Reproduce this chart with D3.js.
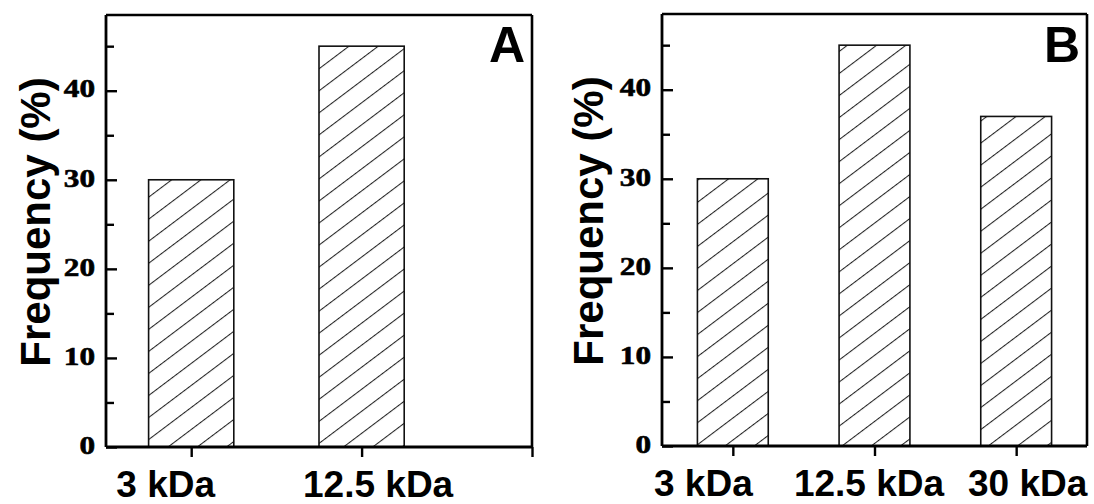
<!DOCTYPE html>
<html><head><meta charset="utf-8">
<script src="https://cdn.jsdelivr.net/npm/d3@7"></script>
<style>body{margin:0;background:#fff;overflow:hidden}</style>
</head><body><svg id="c" width="1094" height="504"></svg>
<script>
// ---- data ----
const categoriesA = ["3 kDa", "12.5 kDa"];
const valuesA = [30, 45];
const categoriesB = ["3 kDa", "12.5 kDa", "30 kDa"];
const valuesB = [30, 45, 37];
const yTickValues = [0, 10, 20, 30, 40];
const yMinorTickValues = [5, 15, 25, 35, 45];
const yTitle = "Frequency (%)";
const panelLetters = ["A", "B"];

// ---- layout ----
const panels = [
  {cats: categoriesA, vals: valuesA, letter: panelLetters[0],
   left: 106, right: 532, top: 15, bottom: 447, xMax: 3, xTicks: [1, 2, 3],
   shift: [-26, 16, 0], ylabX: 50, ylabY: 222, letterX: 525},
  {cats: categoriesB, vals: valuesB, letter: panelLetters[1],
   left: 662, right: 1087, top: 14, bottom: 446, xMax: 3.5, xTicks: [1, 2, 3],
   shift: [-30, -6, 11], ylabX: 603, ylabY: 221, letterX: 1080}
];
const sx = 1.25; // horizontal stretch of tick numerals

const svg = d3.select("#c");
const defs = svg.append("defs");
const pat = defs.append("pattern").attr("id", "hatch")
  .attr("patternUnits", "userSpaceOnUse").attr("width", 10).attr("height", 17.6)
  .attr("patternTransform", "rotate(-37)");
pat.append("rect").attr("width", 10).attr("height", 17.6).attr("fill", "#fff");
pat.append("line").attr("x1", 0).attr("x2", 10).attr("y1", 0.5).attr("y2", 0.5)
  .attr("stroke", "#222").attr("stroke-width", 1.1);

panels.forEach(p => {
  const x = d3.scaleLinear().domain([0.5, p.xMax]).range([p.left, p.right]);
  const y = d3.scaleLinear().domain([0, 48.5]).range([p.bottom, p.top]);
  const g = svg.append("g");

  // bars
  g.selectAll("rect.bar").data(p.vals).join("rect").attr("class", "bar")
    .attr("x", (d, i) => x(i + 1 - 0.25))
    .attr("width", (d, i) => x(i + 1 + 0.25) - x(i + 1 - 0.25))
    .attr("y", d => y(d))
    .attr("height", d => y(0) - y(d))
    .attr("fill", "url(#hatch)")
    .attr("stroke", "#111").attr("stroke-width", 1.6);

  // frame top & right
  g.append("line").attr("x1", p.left).attr("x2", p.right).attr("y1", p.top).attr("y2", p.top)
    .attr("stroke", "#000").attr("stroke-width", 2.6);
  g.append("line").attr("x1", p.right).attr("x2", p.right).attr("y1", p.top).attr("y2", p.bottom)
    .attr("stroke", "#000").attr("stroke-width", 2.6);

  // y axis
  const ya = g.append("g").attr("transform", `translate(${p.left},0)`)
    .call(d3.axisLeft(y).tickValues(yTickValues).tickSize(-11).tickPadding(11).tickFormat(d3.format("d")));
  ya.select(".domain").attr("stroke-width", 2.8).attr("d", `M0,${p.top}V${p.bottom}`);
  ya.selectAll(".tick line").attr("stroke-width", 2.4);
  ya.selectAll(".tick text")
    .style("font-family", "'Liberation Serif', serif").style("font-weight", "900")
    .style("font-size", "25px").attr("dy", "0.25em").attr("fill", "#000")
    .attr("stroke", "#000").attr("stroke-width", 0.6)
    .attr("x", -11 / sx).attr("transform", `scale(${sx},1)`);
  const ym = g.append("g").attr("transform", `translate(${p.left},0)`)
    .call(d3.axisLeft(y).tickValues(yMinorTickValues).tickSize(-8).tickFormat(""));
  ym.select(".domain").remove();
  ym.selectAll(".tick line").attr("stroke-width", 2.4);

  // x axis
  const xa = g.append("g").attr("transform", `translate(0,${p.bottom})`)
    .call(d3.axisBottom(x).tickValues(p.xTicks).tickSize(10).tickPadding(14)
      .tickFormat(d => p.cats[d - 1] || ""));
  xa.select(".domain").attr("stroke-width", 2.8).attr("d", `M${p.left},0H${p.right}`);
  xa.selectAll(".tick line").attr("stroke-width", 2.4);
  xa.selectAll(".tick text").attr("font-family", "Liberation Sans").attr("font-weight", "bold")
    .attr("font-size", 37).attr("fill", "#000")
    .attr("dx", (d, i) => p.shift[i]);

  // y title
  g.append("text").attr("transform", `translate(${p.ylabX},${p.ylabY}) rotate(-90)`)
    .attr("text-anchor", "middle").attr("font-family", "Liberation Sans").attr("font-weight", "bold")
    .attr("font-size", 42).text(yTitle);

  // panel letter
  g.append("text").attr("x", p.letterX).attr("y", 62).attr("text-anchor", "end")
    .attr("font-family", "Liberation Sans").attr("font-weight", "bold").attr("font-size", 50)
    .text(p.letter);
});
</script>
</body></html>
